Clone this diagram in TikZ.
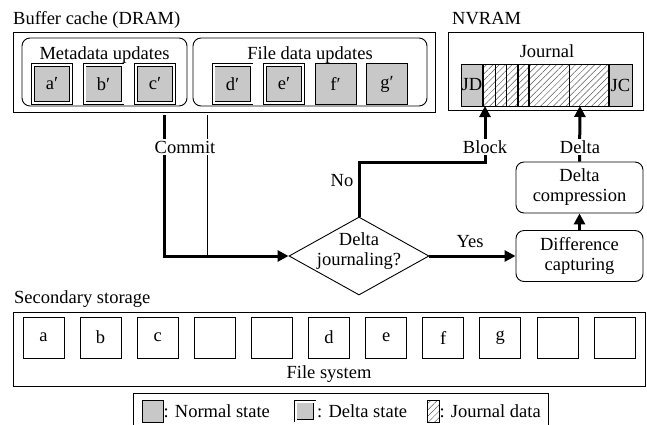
\documentclass[tikz,border=0pt]{standalone}
\usepackage{fontspec}
\setmainfont{Liberation Serif}
\usetikzlibrary{arrows.meta,shapes.geometric,patterns.meta}
\definecolor{boxgray}{RGB}{200,200,200}
\begin{document}
\begin{tikzpicture}[x=1pt,y=-1pt,
  font=\fontsize{18.5}{20}\selectfont,
  frame/.style={draw, line width=0.9pt, inner sep=0pt},
  grp/.style={draw, line width=0.9pt, rounded corners=8pt, inner sep=0pt},
  nblk/.style={draw, fill=boxgray, line width=0.8pt, minimum width=41pt, minimum height=41pt, inner sep=0pt},
  dblk/.style={draw, fill=boxgray, double=white, double distance=2pt, line width=0.6pt, minimum width=38pt, minimum height=38pt, inner sep=0pt},
  sblk/.style={draw, line width=0.8pt, minimum width=41pt, minimum height=41pt, inner sep=0pt},
  proc/.style={draw, line width=0.9pt, rounded corners=8pt, minimum width=127pt, minimum height=51pt, align=center, inner sep=0pt},
  thickarrow/.style={line width=3pt, -{Triangle[length=11pt,width=11pt]}},
  lbl/.style={fill=white, inner sep=1.5pt, anchor=base},
  hatch/.style={pattern={Lines[angle=45,distance=4.5pt,line width=0.5pt]}, pattern color=black!65},
  thindiv/.style={line width=0.7pt},
  thkdiv/.style={line width=1.5pt}
]
\useasboundingbox (0,0) rectangle (647,424);

% ---------- Buffer cache ----------
\node[anchor=base west, inner sep=0pt] (tbuf) at (13,24) {Buffer cache (DRAM)};
\node[frame, minimum width=422pt, minimum height=80pt] (dram) at (224,72) {};
\node[grp, minimum width=165pt, minimum height=68pt] (meta) at (104.5,72) {};
\node[grp, minimum width=234pt, minimum height=68pt] (fdat) at (310,72) {};
\node[anchor=base, inner sep=0pt] (tmeta) at (104.5,59) {Metadata updates};
\node[anchor=base, inner sep=0pt] (tfdat) at (310,59) {File data updates};
\node[dblk] (ap) at (52,84) {a′};
\node[dblk] (bp) at (103.5,84) {b′};
\node[dblk] (cp) at (155,84) {c′};
\node[dblk] (dp) at (232.5,84) {d′};
\node[dblk] (ep) at (284,84) {e′};
\node[nblk] (fp) at (335.5,84) {f′};
\node[nblk] (gp) at (387,84) {g′};

% ---------- NVRAM ----------
\node[anchor=base west, inner sep=0pt] (tnv) at (452,24) {NVRAM};
\node[frame, minimum width=195pt, minimum height=78pt] (nv) at (545.5,71) {};
\node[anchor=base, inner sep=0pt] (tjour) at (547,57) {Journal};
\path[hatch] (483,64) rectangle (609,106);
\node[nblk, minimum width=22pt, minimum height=42pt] (jd) at (472,85) {JD};
\node[nblk, minimum width=23pt, minimum height=42pt] (jc) at (620.5,85) {JC};
\draw[line width=0.9pt] (461,64) rectangle (632,106);
\draw[thkdiv] (483,64) -- (483,106);
\draw[thindiv] (495,64) -- (495,106);
\draw[thindiv] (506,64) -- (506,106);
\draw[thkdiv] (518,64) -- (518,106);
\draw[thkdiv] (529,64) -- (529,106);
\draw[thindiv] (569,64) -- (569,106);
\draw[thkdiv] (609,64) -- (609,106);
\coordinate (blkin) at (485,106);
\coordinate (dltin) at (580,106);

% ---------- Flow ----------
\node[diamond, draw, line width=0.9pt, minimum width=140pt, minimum height=78pt, inner sep=0pt] (dj) at (359,256) {};
\node[align=center, inner sep=0pt] (tdj) at (359,251) {Delta\\journaling?};
\node[proc] (dcap) at (579.5,256) {Difference\\capturing};
\node[proc] (dcomp) at (579.5,187.5) {Delta\\compression};

\coordinate (cm1) at (164,115);
\coordinate (cm2) at (207,115);
\coordinate (cm2e) at (207,256);
\draw[line width=0.8pt] (cm2) -- (cm2e);
\draw[thickarrow] (cm1) |- (dj.west);
\node[lbl] (tcommit) at (185,153) {Commit};

\draw[thickarrow] (dj.north) |- (485,162) -- (blkin);
\node[lbl] (tblock) at (485,153) {Block};
\node[anchor=base, inner sep=0pt] (tno) at (342,186) {No};

\draw[thickarrow] (dcomp.north) -- (dltin);
\node[lbl] (tdelta) at (580,153) {Delta};

\draw[thickarrow] (dj.east) -- (dcap.west);
\node[anchor=base, inner sep=0pt] (tyes) at (470,247) {Yes};
\draw[thickarrow] (dcap.north) -- (dcomp.south);

% ---------- Secondary storage ----------
\node[anchor=base west, inner sep=0pt] (tss) at (14,303) {Secondary storage};
\node[frame, minimum width=632pt, minimum height=74pt] (ss) at (329,349) {};
\foreach \i/\t in {0/a,1/b,2/c,3/,4/,5/d,6/e,7/f,8/g,9/,10/}
  \node[sblk] (s\i) at (43.5+57.1*\i,337.5) {\t};
\node[anchor=base, inner sep=0pt] (tfs) at (329,378) {File system};

% ---------- Legend ----------
\node[frame, minimum width=415pt, minimum height=42pt] (leg) at (340.5,414) {};
\node[nblk, minimum width=21pt, minimum height=22pt] (ln) at (152.5,411) {};
\node[anchor=west, inner sep=0pt] (tln) at (ln.east) {: Normal state};
\node[dblk, minimum width=19pt, minimum height=19pt] (ld) at (305,411) {};
\node[anchor=west, inner sep=0pt] (tld) at (317,411) {: Delta state};
\node[draw, hatch, line width=0.7pt, minimum width=12pt, minimum height=22pt, inner sep=0pt] (lj) at (433,411) {};
\node[anchor=west, inner sep=0pt] (tlj) at (lj.east) {: Journal data};
\end{tikzpicture}
\end{document}
